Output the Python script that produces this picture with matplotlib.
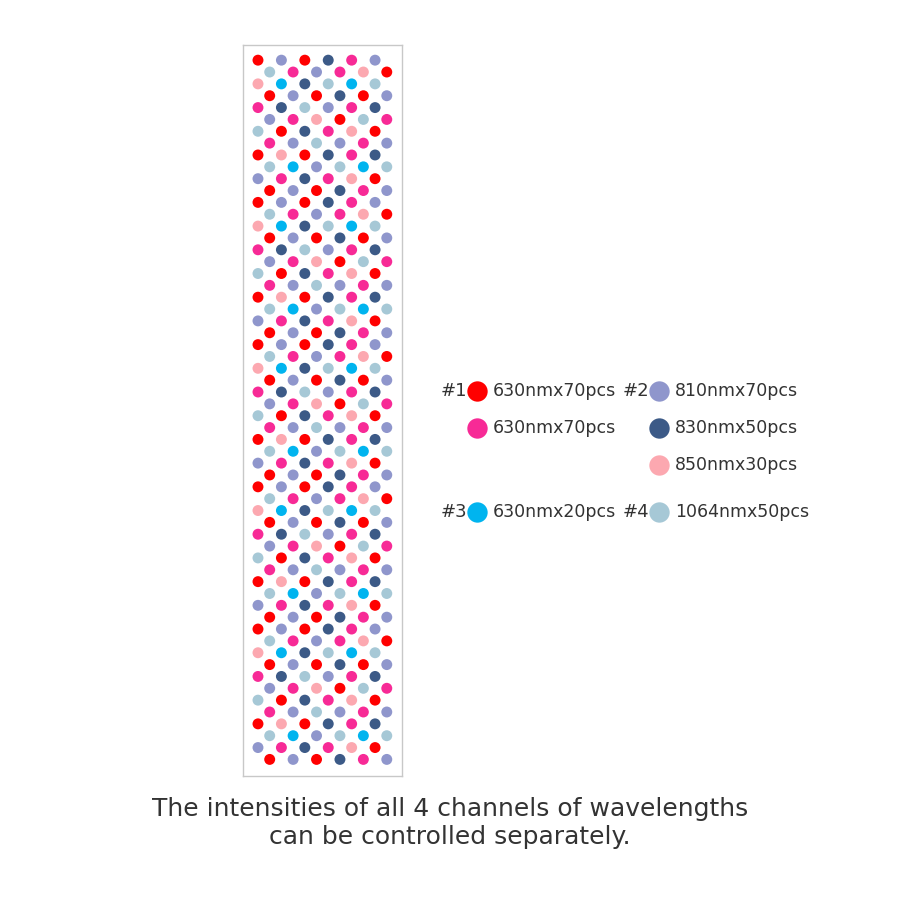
import matplotlib
matplotlib.use("Agg")
import matplotlib.pyplot as plt

# one 12-row period of the LED layout, 6 dots per row (staggered columns)
pattern = [
    "RLRNML", "BMLMPR", "PCNBCB", "RLRNRL", "MNBLMN", "LMPRBM",
    "BRNMPR", "MLBLML", "RPRNMN", "BCLBCB", "LMNMPR", "RLRNML",
]
n_rows = 60
colors = {
    "R": "#ff0000",  # 630nm
    "M": "#f72a96",  # 630nm
    "C": "#00b4ef",  # 630nm
    "L": "#8f96cc",  # 810nm
    "N": "#3c5a87",  # 830nm
    "P": "#fca8b0",  # 850nm
    "B": "#a6c8d6",  # 1064nm
}
legend_rows = [
    ("#1", "R", "630nmx70pcs", "#2", "L", "810nmx70pcs"),
    ("", "M", "630nmx70pcs", "", "N", "830nmx50pcs"),
    ("", None, "", "", "P", "850nmx30pcs"),
    ("#3", "C", "630nmx20pcs", "#4", "B", "1064nmx50pcs"),
]
legend_y = [391, 428, 465, 512]
caption = "The intensities of all 4 channels of wavelengths\ncan be controlled separately."

fig = plt.figure(figsize=(9, 9), dpi=100)
ax = fig.add_axes([243 / 900, 124 / 900, 159 / 900, 731 / 900])
xs, ys, cs = [], [], []
for r in range(n_rows):
    row = pattern[r % 12]
    for i, code in enumerate(row):
        xs.append(2 * i + (r % 2))
        ys.append(r)
        cs.append(colors[code])
ax.scatter(xs, ys, s=62, c=cs, linewidths=0)
ax.set_xlim(-1.28, 12.3)
ax.set_ylim(60.4, -1.28)
ax.set_xticks([])
ax.set_yticks([])
for sp in ax.spines.values():
    sp.set_color("#c8c8c8")
    sp.set_linewidth(1)

# legend drawn on an overlay in pixel coordinates
ov = fig.add_axes([0, 0, 1, 1])
ov.set_xlim(0, 900)
ov.set_ylim(900, 0)
ov.axis("off")
tc = "#333333"
for y, (h1, c1, t1, h2, c2, t2) in zip(legend_y, legend_rows):
    for hx, mx, tx, h, c, t in ((441, 477, 493, h1, c1, t1), (623, 659, 675, h2, c2, t2)):
        if h:
            ov.text(hx, y, h, fontsize=13, color=tc, va="center", ha="left")
        if c:
            ov.scatter([mx], [y], s=215, c=colors[c], linewidths=0)
            ov.text(tx, y, t, fontsize=12.5, color=tc, va="center", ha="left")

ov.text(450, 823, caption, fontsize=18, color=tc, ha="center", va="center",
        linespacing=1.2)

fig.savefig("out.png", dpi=100)
